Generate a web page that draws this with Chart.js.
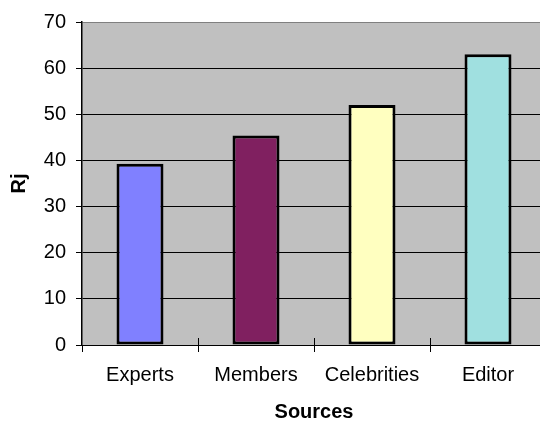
<!DOCTYPE html>
<html>
<head>
<meta charset="utf-8">
<script src="https://cdn.jsdelivr.net/npm/chart.js@4/dist/chart.umd.min.js"></script>
<style>
  html, body { margin: 0; padding: 0; background: #fff; overflow: hidden; width: 540px; height: 421px; }
  canvas { display: block; }
</style>
</head>
<body>
<canvas id="rjChart" width="560" height="421"></canvas>
<script>
// Rj by source
const categories = ['Experts', 'Members', 'Celebrities', 'Editor'];
const rjValues = [39.3, 45.4, 52, 63];
const barColors = ['#8080ff', '#802060', '#ffffc0', '#a0e0e0'];

const FONT = '"Liberation Sans", Arial, sans-serif';

// grey plot area behind the bars
const plotBackground = {
  id: 'plotBackground',
  beforeDraw(chart) {
    const { ctx, chartArea: a } = chart;
    ctx.save();
    ctx.fillStyle = '#c0c0c0';
    ctx.fillRect(a.left, a.top, a.right - a.left, a.bottom - a.top);
    ctx.restore();
  }
};

// category tick marks cross the x axis: draw the part inside the plot
const innerTicks = {
  id: 'innerTicks',
  afterDatasetsDraw(chart) {
    const { ctx, chartArea: a, scales: { x } } = chart;
    ctx.save();
    ctx.strokeStyle = '#000';
    ctx.lineWidth = 1;
    for (let i = 1; i < categories.length; i++) {
      const px = Math.round((x.getPixelForTick(i - 1) + x.getPixelForTick(i)) / 2) + 0.5;
      ctx.beginPath();
      ctx.moveTo(px, a.bottom - 7);
      ctx.lineTo(px, a.bottom);
      ctx.stroke();
    }
    ctx.restore();
  }
};

new Chart(document.getElementById('rjChart'), {
  type: 'bar',
  data: {
    labels: categories,
    datasets: [{
      data: rjValues,
      backgroundColor: barColors,
      borderColor: '#000',
      borderWidth: 3,
      borderSkipped: false,
      barPercentage: 0.405,
      categoryPercentage: 1
    }]
  },
  options: {
    responsive: false,
    animation: false,
    layout: { padding: { left: 0, top: 20, right: 14, bottom: 0 } },
    plugins: {
      legend: { display: false },
      tooltip: { enabled: false }
    },
    scales: {
      x: {
        afterFit: (scale) => { scale.height = 76; },
        grid: {
          offset: true,
          drawOnChartArea: false,
          color: '#000',
          tickLength: 7
        },
        border: { color: '#000', width: 1 },
        ticks: {
          color: '#000',
          padding: 11,
          font: { family: FONT, size: 20 }
        },
        title: {
          display: true,
          text: 'Sources',
          color: '#000',
          font: { family: FONT, size: 20, weight: 'bold', lineHeight: 1 },
          padding: { top: 0, bottom: -1 }
        }
      },
      y: {
        min: 0,
        max: 70,
        afterFit: (scale) => { scale.width = 82; },
        grid: {
          color: (c) => (c.tick && c.tick.value === 70 ? '#808080' : '#000'),
          tickColor: '#000',
          tickLength: 6,
          lineWidth: 1
        },
        border: { color: '#000', width: 1.5 },
        ticks: {
          stepSize: 10,
          color: '#000',
          padding: 10,
          font: { family: FONT, size: 20 }
        },
        title: {
          display: true,
          text: 'Rj',
          color: '#000',
          font: { family: FONT, size: 20, weight: 'bold', lineHeight: 1 },
          padding: { top: 9, bottom: 0 }
        }
      }
    }
  },
  plugins: [plotBackground, innerTicks]
});
</script>
</body>
</html>
